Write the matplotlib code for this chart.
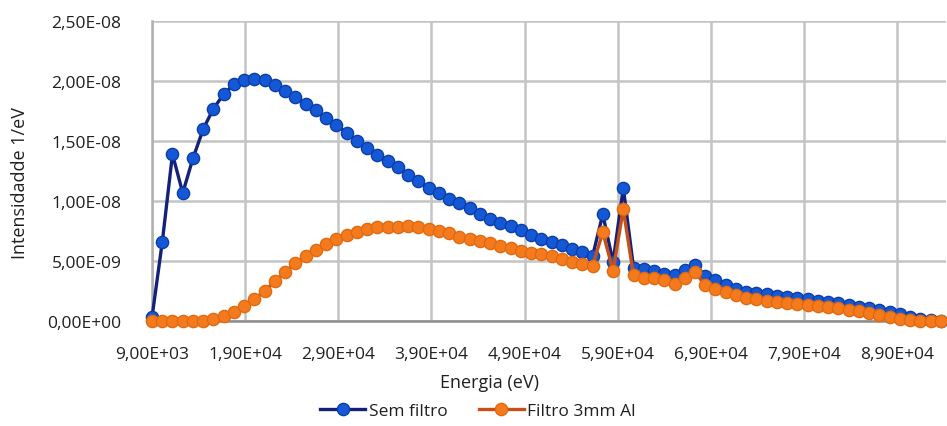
import matplotlib
matplotlib.use("Agg")
import matplotlib.pyplot as plt
from matplotlib.ticker import FixedLocator, FuncFormatter
import numpy as np

plt.rcParams['font.family'] = ['Open Sans', 'DejaVu Sans']

energia = [9000, 10100, 11200, 12300, 13400, 14500, 15600, 16700, 17800, 18900,
           20000, 21100, 22200, 23300, 24400, 25500, 26600, 27700, 28800, 29900,
           31000, 32100, 33200, 34300, 35400, 36500, 37600, 38700, 39800, 40900,
           42000, 43100, 44200, 45300, 46400, 47500, 48600, 49700, 50800, 51900,
           53000, 54100, 55200, 56300, 57400, 58500, 59600, 60700, 61800, 62900,
           64000, 65100, 66200, 67300, 68400, 69500, 70600, 71700, 72800, 73900,
           75000, 76100, 77200, 78300, 79400, 80500, 81600, 82700, 83800, 84900,
           86000, 87100, 88200, 89300, 90400, 91500, 92600, 93700]

# intensities in units of 1e-9 (1/eV)
sem_filtro = [0.3, 6.56, 13.9, 10.67, 13.56, 16.0, 17.7, 18.9, 19.75, 20.1,
              20.15, 20.05, 19.65, 19.2, 18.65, 18.1, 17.55, 16.9, 16.3, 15.7,
              15.0, 14.4, 13.8, 13.3, 12.8, 12.2, 11.65, 11.1, 10.65, 10.2,
              9.8, 9.4, 8.95, 8.5, 8.2, 7.9, 7.6, 7.2, 6.85, 6.55,
              6.3, 6.0, 5.75, 5.4, 8.9, 4.9, 11.1, 4.45, 4.3, 4.2,
              3.95, 3.8, 4.25, 4.7, 3.75, 3.4, 3.0, 2.7, 2.45, 2.35,
              2.25, 2.1, 2.0, 1.9, 1.8, 1.7, 1.6, 1.5, 1.35, 1.2,
              1.05, 0.9, 0.75, 0.55, 0.35, 0.15, 0.05, 0.0]

filtro_al = [0.0, 0.0, 0.0, 0.0, 0.0, 0.03, 0.15, 0.4, 0.75, 1.25,
             1.85, 2.5, 3.3, 4.1, 4.8, 5.45, 5.95, 6.4, 6.8, 7.15,
             7.45, 7.65, 7.8, 7.85, 7.85, 7.9, 7.8, 7.65, 7.5, 7.3,
             7.0, 6.8, 6.65, 6.5, 6.25, 6.1, 5.85, 5.7, 5.55, 5.4,
             5.15, 4.95, 4.75, 4.6, 7.4, 4.2, 9.3, 3.8, 3.6, 3.55,
             3.4, 3.05, 3.6, 4.05, 3.0, 2.7, 2.45, 2.15, 1.9, 1.8,
             1.7, 1.6, 1.5, 1.42, 1.35, 1.25, 1.15, 1.05, 0.95, 0.8,
             0.65, 0.5, 0.35, 0.2, 0.1, 0.02, 0.0, 0.0]

x_ticks = [9000, 19000, 29000, 39000, 49000, 59000, 69000, 79000, 89000]
y_ticks = [0, 5e-9, 1e-8, 1.5e-8, 2e-8, 2.5e-8]

x = np.array(energia)
y_sem = np.array(sem_filtro) * 1e-9
y_al = np.array(filtro_al) * 1e-9

fig = plt.figure(figsize=(9.47, 4.27), dpi=100)
ax = fig.add_axes([152/947, 1 - 322/427, (946-152)/947, 300/427])

ax.plot(x, y_sem, color='#14207A', lw=2.4, marker='o', ms=8.8,
        mfc='#1558D6', mec='#0B3DA8', mew=1.0, clip_on=False, zorder=3,
        label='Sem filtro')
ax.plot(x, y_al, color='#C4501A', lw=2.4, marker='o', ms=8.8,
        mfc='#F57A1E', mec='#E06A10', mew=1.0, clip_on=False, zorder=4,
        label='Filtro 3mm Al')

ax.set_xlim(9000, 94250)
ax.set_ylim(0, 2.5e-8)
ax.xaxis.set_major_locator(FixedLocator(x_ticks))
ax.yaxis.set_major_locator(FixedLocator(y_ticks))

def sci_comma(v, pos):
    s = f"{v:.2E}"
    return s.replace('.', ',')

ax.xaxis.set_major_formatter(FuncFormatter(sci_comma))
ax.yaxis.set_major_formatter(FuncFormatter(sci_comma))

ax.grid(True, color='#C4C4C4', lw=1.8)
ax.set_axisbelow(True)
for side in ['top', 'right']:
    ax.spines[side].set_visible(False)
ax.spines['left'].set_color('#B0B0B0')
ax.spines['left'].set_linewidth(1.8)
ax.spines['bottom'].set_color('#8C8C8C')
ax.spines['bottom'].set_linewidth(1.8)
ax.tick_params(length=0, labelsize=12.5, colors='#202020', pad=18)
ax.tick_params(axis='y', pad=22)

fig.text(20/947, 1 - 183/427, 'Intensidadde 1/eV', rotation=90, ha='center',
         va='center', fontsize=13, color='#202020')
fig.text(489/947, 1 - 383/427, 'Energia (eV)', ha='center', va='center',
         fontsize=13, color='#202020')

leg = fig.legend(loc='center', bbox_to_anchor=(478/947, 1 - 412/427), ncol=2,
                 frameon=False, fontsize=12.5, handlelength=2.6,
                 columnspacing=1.8, handletextpad=0.2)
for t in leg.get_texts():
    t.set_color('#202020')

fig.savefig('out.png', dpi=100)
